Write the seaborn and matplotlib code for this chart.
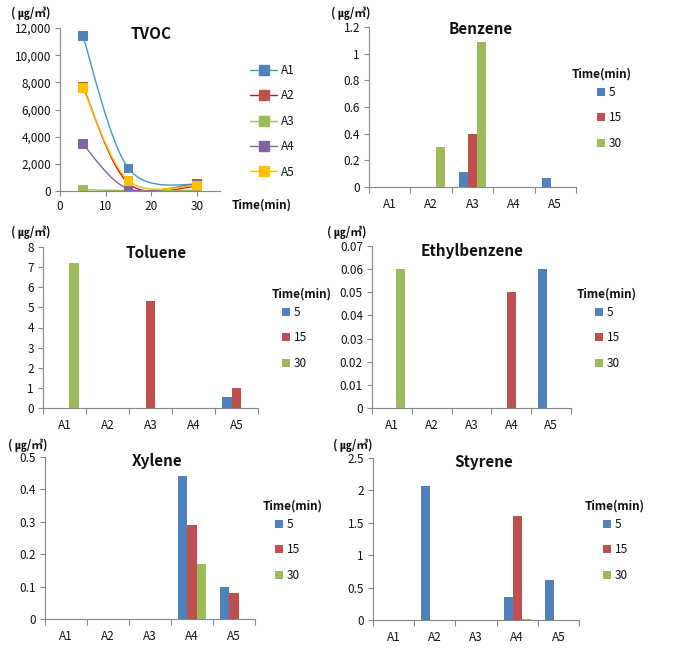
import numpy as np
import pandas as pd
import matplotlib.pyplot as plt
import seaborn as sns
from matplotlib.path import Path
from matplotlib.patches import PathPatch
from matplotlib.lines import Line2D

# Data
sites = ["A1", "A2", "A3", "A4", "A5"]
times = [5, 15, 30]
time_labels = ["5", "15", "30"]

# TVOC (line chart), values at 5, 15, 30 min
tvoc_a1 = [11400, 1650, 450]
tvoc_a2 = [7700, 550, 350]
tvoc_a3 = [100, 30, 50]
tvoc_a4 = [3450, 150, 550]
tvoc_a5 = [7600, 750, 400]

# bar charts: one list per time, values per site
benzene_5 = [0, 0, 0.11, 0, 0.065]
benzene_15 = [0, 0, 0.40, 0, 0]
benzene_30 = [0, 0.30, 1.09, 0, 0]

toluene_5 = [0, 0, 0, 0, 0.55]
toluene_15 = [0, 0, 5.3, 0, 1.0]
toluene_30 = [7.2, 0, 0, 0, 0]

ethyl_5 = [0, 0, 0, 0, 0.06]
ethyl_15 = [0, 0, 0, 0.05, 0]
ethyl_30 = [0.06, 0, 0, 0, 0]

xylene_5 = [0, 0, 0, 0.44, 0.10]
xylene_15 = [0, 0, 0, 0.29, 0.08]
xylene_30 = [0, 0, 0, 0.17, 0]

styrene_5 = [0, 2.07, 0, 0.35, 0.62]
styrene_15 = [0, 0, 0, 1.6, 0]
styrene_30 = [0, 0, 0, 0.02, 0]

unit = "( ㎍/㎥)"

# Style
sns.set_theme(style="white")
plt.rcParams["font.family"] = ["Noto Sans CJK KR", "DejaVu Sans"]
spine_c = "#868686"
bar_colors = ["#4F81BD", "#C0504D", "#9BBB59"]
marker_colors = ["#4F81BD", "#C0504D", "#9BBB59", "#8064A2", "#FFC000"]
line_colors = ["#3E9BC8", "#D01010", "#9BBB59", "#8064A2", "#FFC000"]
FS = 8.5
txt_c = "#111111"

W, H = 688, 653
fig = plt.figure(figsize=(W / 100, H / 100), dpi=100)


def px_axes(left, top, right, bottom):
    return fig.add_axes([left / W, 1 - bottom / H, (right - left) / W, (bottom - top) / H])


def fig_text(x, y, s, **kw):
    fig.text(x / W, 1 - y / H, s, color=txt_c, **kw)


def style_axes(ax):
    for side in ["top", "right"]:
        ax.spines[side].set_visible(False)
    for side in ["left", "bottom"]:
        ax.spines[side].set_color(spine_c)
        ax.spines[side].set_linewidth(0.8)
    ax.tick_params(axis="y", which="both", left=True, length=3.5, width=0.8,
                   color=spine_c, labelsize=FS, pad=3, labelcolor=txt_c)
    ax.set_xlabel("")
    ax.set_ylabel("")


def smooth_path(xs, ys, sx, sy):
    p = np.column_stack([np.asarray(xs, float) / sx, np.asarray(ys, float) / sy])
    n = len(p)
    verts = [p[0]]
    codes = [Path.MOVETO]
    for i in range(n - 1):
        prev_p = p[max(i - 1, 0)]
        next_p = p[min(i + 2, n - 1)]
        c1 = p[i] + (p[i + 1] - prev_p) / 6
        c2 = p[i + 1] - (next_p - p[i]) / 6
        verts += [c1, c2, p[i + 1]]
        codes += [Path.CURVE4] * 3
    verts = np.array(verts) * [sx, sy]
    return Path(verts, codes)


# TVOC panel
ax = px_axes(60, 28, 220, 191)
tvoc = [tvoc_a1, tvoc_a2, tvoc_a3, tvoc_a4, tvoc_a5]
handles = []
for k, vals in enumerate(tvoc):
    ax.add_patch(PathPatch(smooth_path(times, vals, 35, 12000), fill=False,
                           edgecolor=line_colors[k], lw=1.0, zorder=2))
for k, vals in enumerate(tvoc):
    sns.scatterplot(x=times, y=vals, marker="s", s=48, color=marker_colors[k],
                    edgecolor="none", ax=ax, zorder=3, legend=False)
    handles.append(Line2D([0], [0], color=line_colors[k], lw=1.0, marker="s",
                          markersize=6.5, markerfacecolor=marker_colors[k],
                          markeredgecolor=marker_colors[k]))
ax.set_xlim(0, 35)
ax.set_ylim(0, 12000)
ax.set_xticks([0, 10, 20, 30])
ax.set_yticks(np.arange(0, 12001, 2000))
ax.set_yticklabels([f"{v:,.0f}" for v in np.arange(0, 12001, 2000)])
style_axes(ax)
ax.tick_params(axis="x", bottom=True, length=3.5, width=0.8, color=spine_c,
               labelsize=FS, pad=3, labelcolor=txt_c)
leg = ax.legend(handles, sites, loc="upper left", bbox_to_anchor=(250 / W, 1 - 64 / H),
                bbox_transform=fig.transFigure, frameon=False, fontsize=FS,
                handlelength=2.3, handletextpad=0.3, labelspacing=1.05, borderpad=0,
                borderaxespad=0, numpoints=1, labelcolor=txt_c)
fig_text(151, 34, "TVOC", ha="center", va="center", fontsize=11, fontweight="bold")
fig_text(232, 205, "Time(min)", ha="left", va="center", fontsize=FS, fontweight="bold")
fig_text(11, 13, unit, ha="left", va="center", fontsize=8.5, fontweight="bold")


def bar_panel(box, name, v5, v15, v30, ymax, step, title_xy, unit_xy, leg_xy):
    ax = px_axes(*box)
    df = pd.DataFrame({
        "site": sites * 3,
        "time": [t for t in time_labels for _ in sites],
        "value": v5 + v15 + v30,
    })
    sns.barplot(data=df, x="site", y="value", hue="time", order=sites,
                hue_order=time_labels, palette=bar_colors, width=0.66,
                saturation=1, linewidth=0, errorbar=None, ax=ax)
    ax.set_xlim(-0.5, len(sites) - 0.5)
    ax.set_ylim(0, ymax)
    ticks = np.round(np.arange(0, ymax + step / 2, step), 4)
    ax.set_yticks(ticks)
    ax.set_yticklabels([f"{t:g}" for t in ticks])
    ax.set_xticks(np.arange(-0.5, len(sites), 1.0), minor=True)
    style_axes(ax)
    ax.tick_params(axis="x", which="major", length=0, labelsize=FS, pad=8,
                   labelcolor=txt_c)
    ax.tick_params(axis="x", which="minor", bottom=True, length=4, width=0.8,
                   color=spine_c)
    h, l = ax.get_legend_handles_labels()
    ax.legend(h, l, loc="upper left", bbox_to_anchor=(leg_xy[0] / W, 1 - (leg_xy[1] + 12) / H),
              bbox_transform=fig.transFigure, frameon=False, fontsize=FS,
              handlelength=0.65, handleheight=0.65, handletextpad=0.35,
              labelspacing=1.05, borderpad=0, borderaxespad=0, labelcolor=txt_c)
    fig_text(leg_xy[0] - leg_xy[2], leg_xy[1], "Time(min)", ha="left", va="center",
             fontsize=FS, fontweight="bold")
    fig_text(title_xy[0], title_xy[1], name, ha="center", va="center",
             fontsize=11, fontweight="bold")
    fig_text(unit_xy[0], unit_xy[1], unit, ha="left", va="center",
             fontsize=8.5, fontweight="bold")


bar_panel((369, 27, 576, 187), "Benzene", benzene_5, benzene_15, benzene_30,
          1.2, 0.2, (481, 29), (331, 13), (597, 74, 25))
bar_panel((43, 247, 258, 408), "Toluene", toluene_5, toluene_15, toluene_30,
          8, 1, (156, 253), (11, 232), (282, 294, 10))
bar_panel((372, 246, 571, 408), "Ethylbenzene", ethyl_5, ethyl_15, ethyl_30,
          0.07, 0.01, (472, 251), (327, 232), (595, 294, 18))
bar_panel((45, 457, 255, 619), "Xylene", xylene_5, xylene_15, xylene_30,
          0.5, 0.1, (157, 461), (8, 445), (275, 506, 12))
bar_panel((373, 458, 579, 620), "Styrene", styrene_5, styrene_15, styrene_30,
          2.5, 0.5, (484, 462), (333, 445), (603, 506, 18))

fig.savefig("out.png", dpi=100)
